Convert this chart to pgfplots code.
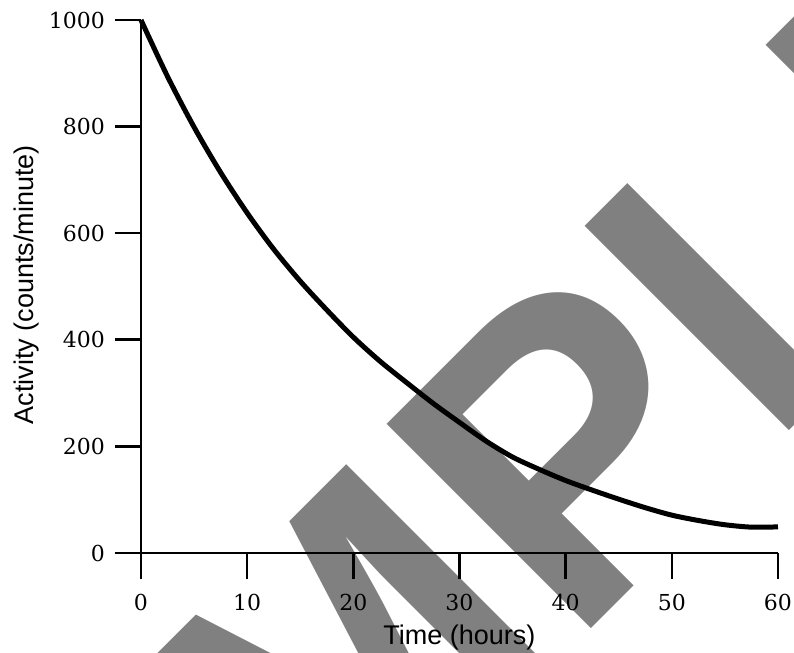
\documentclass[border=0pt]{standalone}
\usepackage{fontspec}
\setmainfont{DejaVu Serif}
\newfontfamily\labelfont{Liberation Sans}
\newfontfamily\wmfont{Liberation Sans}
\usepackage{pgfplots}
\pgfplotsset{compat=1.18}
\definecolor{wmgray}{RGB}{128,128,128}
\begin{document}
\begin{tikzpicture}
% watermark (behind everything, does not enlarge the picture)
\node[overlay, rotate=45, anchor=base, text=wmgray, inner sep=0pt,
      font=\wmfont\bfseries\fontsize{210}{210}\selectfont] at (194.5pt,-68.5pt) {SAMPLE};
\begin{axis}[
  scale only axis,
  width=318.5pt, height=266.5pt,
  xmin=0, xmax=60, ymin=0, ymax=1000,
  axis x line=bottom, axis y line=left,
  axis line style={-, line width=1.3pt},
  xtick={0,10,...,60}, ytick={0,200,...,1000},
  tick align=outside, major tick length=13pt,
  tick style={line width=1.3pt, black},
  minor tick num=0,
  /pgf/number format/assume math mode=true,
  /pgf/number format/1000 sep={},
  tick label style={font=\fontsize{11}{13}\selectfont},
  xticklabel style={yshift=-4pt},
  yticklabel style={xshift=-1.5pt},
  xlabel={Time (hours)}, ylabel={Activity (counts/minute)},
  label style={font=\labelfont\fontsize{13.5}{15}\selectfont},
  xlabel style={at={(axis description cs:0.5,-0.1726)}, anchor=base},
  ylabel style={at={(axis description cs:-0.1695,0.503)}, anchor=base},
  clip=false,
]
\addplot[black, line width=2.5pt, smooth] coordinates {
(0,1000) (2.5,894) (5,799) (7.5,714) (10,638) (12.5,570) (15,510) (17.5,456)
(20,405) (22.5,360) (25,320) (27.5,281) (30,245) (32.5,210) (35,180)
(37.5,157) (40,136) (42.5,118) (45,101) (47.5,85) (50,71) (52.5,61)
(55,53) (57.5,48.5) (60,49)
};
\end{axis}
\pgfresetboundingbox
\path[use as bounding box] (-70.5pt,-50pt) rectangle (326.5pt,276.5pt);
\end{tikzpicture}
\end{document}
